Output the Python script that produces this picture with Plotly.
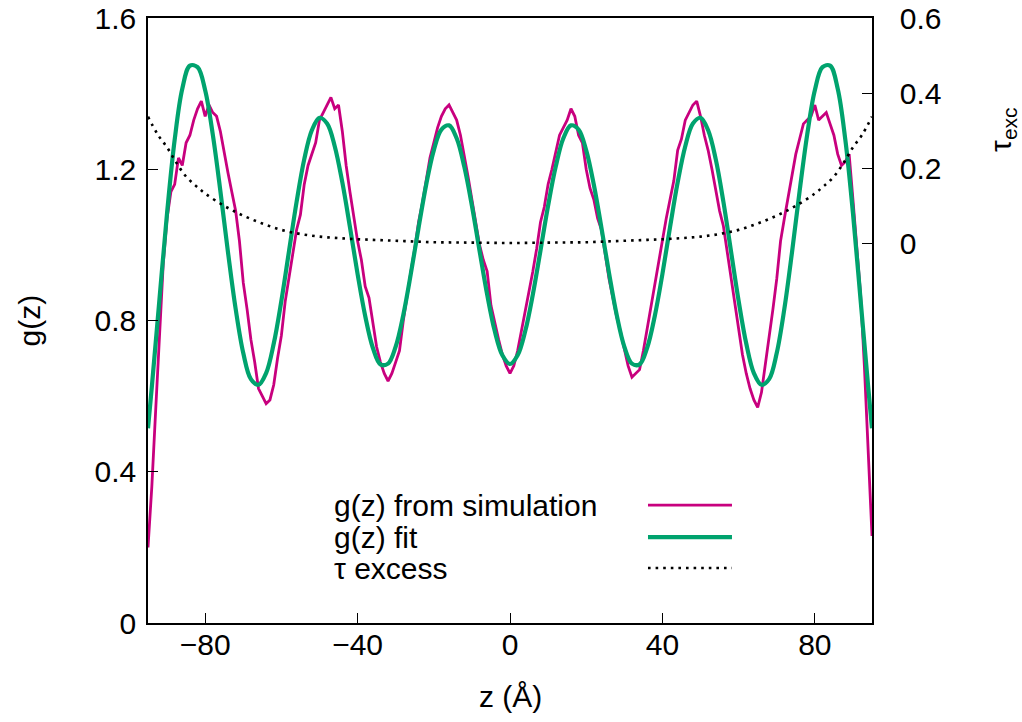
import plotly.graph_objects as go

# ---------------- data ----------------
z_sim = list(range(-95, 96))
g_sim = [
    0.20, 0.36, 0.56, 0.74, 0.95, 1.07, 1.14, 1.16, 1.23, 1.21,   # -95..-86
    1.27, 1.29, 1.33, 1.36, 1.38, 1.34, 1.37, 1.35, 1.34, 1.30,   # -85..-76
    1.25, 1.19, 1.14, 1.09, 1.01, 0.90, 0.83, 0.75, 0.69, 0.62,   # -75..-66
    0.60, 0.58, 0.59, 0.63, 0.70, 0.76, 0.85, 0.91, 0.97, 1.04,   # -65..-56
    1.08, 1.16, 1.21, 1.24, 1.27, 1.33, 1.35, 1.37, 1.39, 1.36,   # -55..-46
    1.37, 1.30, 1.21, 1.14, 1.07, 1.01, 0.96, 0.89, 0.86, 0.79,   # -45..-36
    0.73, 0.69, 0.66, 0.64, 0.66, 0.69, 0.72, 0.80, 0.87, 0.93,   # -35..-26
    0.99, 1.06, 1.11, 1.17, 1.23, 1.27, 1.31, 1.34, 1.36, 1.37,   # -25..-16
    1.35, 1.33, 1.29, 1.24, 1.18, 1.12, 1.06, 1.00, 0.96, 0.93,   # -15..-6
    0.84, 0.79, 0.75, 0.71, 0.68, 0.66, 0.68, 0.72, 0.77, 0.82,   # -5..4
    0.88, 0.93, 0.99, 1.06, 1.10, 1.16, 1.20, 1.25, 1.29, 1.31,   # 5..14
    1.33, 1.36, 1.34, 1.29, 1.27, 1.20, 1.15, 1.12, 1.07, 1.04,   # 15..24
    0.97, 0.91, 0.86, 0.81, 0.77, 0.72, 0.68, 0.65, 0.66, 0.67,   # 25..34
    0.72, 0.78, 0.84, 0.90, 0.96, 1.02, 1.07, 1.12, 1.17, 1.25,   # 35..44
    1.28, 1.33, 1.35, 1.37, 1.38, 1.34, 1.29, 1.25, 1.20, 1.14,   # 45..54
    1.09, 1.05, 0.98, 0.92, 0.85, 0.77, 0.71, 0.66, 0.62, 0.59,   # 55..64
    0.57, 0.61, 0.68, 0.75, 0.83, 0.91, 1.01, 1.07, 1.13, 1.18,   # 65..74
    1.24, 1.28, 1.32, 1.33, 1.34, 1.37, 1.33, 1.34, 1.35, 1.32,   # 75..84
    1.29, 1.24, 1.21, 1.22, 1.24, 1.12, 1.00, 0.87, 0.68, 0.45,   # 85..94
    0.23,                                                         # 95
]

z_fit = [-95, -94, -92, -90, -88, -86, -84, -82, -80, -78, -76, -74, -72, -70,
         -68, -66, -64, -62, -60, -58, -56, -54, -52, -50, -48, -46, -44, -42,
         -40, -38, -36, -34, -32, -30, -28, -26, -24, -22, -20, -18, -16, -14,
         -12, -10, -8, -6, -4, -2, 0, 2, 4, 6, 8, 10, 12, 14, 16, 18, 20, 22,
         24, 26, 28, 30, 32, 34, 36, 38, 40, 42, 44, 46, 48, 50, 52, 54, 56,
         58, 60, 62, 64, 66, 68, 70, 72, 74, 76, 78, 80, 82, 84, 86, 88, 90,
         92, 94, 95]
g_fit = [0.515, 0.624, 0.855, 1.084, 1.278, 1.413, 1.474, 1.470, 1.409, 1.292,
         1.142, 0.980, 0.831, 0.714, 0.645, 0.630, 0.661, 0.739, 0.852, 0.983,
         1.114, 1.226, 1.303, 1.336, 1.321, 1.261, 1.165, 1.047, 0.923, 0.812,
         0.728, 0.684, 0.686, 0.731, 0.815, 0.925, 1.045, 1.159, 1.250, 1.305,
         1.316, 1.282, 1.207, 1.104, 0.985, 0.869, 0.772, 0.708, 0.685, 0.708,
         0.772, 0.869, 0.985, 1.104, 1.207, 1.282, 1.316, 1.305, 1.250, 1.159,
         1.045, 0.925, 0.815, 0.731, 0.686, 0.684, 0.728, 0.812, 0.923, 1.047,
         1.165, 1.261, 1.321, 1.336, 1.303, 1.226, 1.114, 0.983, 0.852, 0.739,
         0.661, 0.630, 0.645, 0.714, 0.831, 0.980, 1.142, 1.292, 1.409, 1.470,
         1.474, 1.413, 1.278, 1.084, 0.855, 0.624, 0.515]

z_tau = [-95, -92.5, -90, -87.5, -85, -82.5, -80, -75, -70, -65, -60, -55, -50,
         -45, -40, -35, -30, -25, -20, -15, -10, -5, 0, 5, 10, 15, 20, 25, 30,
         35, 40, 45, 50, 55, 60, 65, 70, 75, 80, 82.5, 85, 87.5, 90, 92.5, 95]
tau_exc = [0.337, 0.290, 0.255, 0.213, 0.177, 0.153, 0.132, 0.099, 0.073, 0.052,
           0.035, 0.024, 0.017, 0.013, 0.010, 0.008, 0.006, 0.004, 0.002, 0.0015,
           0.001, 0.0005, 0.0, 0.0005, 0.001, 0.0015, 0.002, 0.004, 0.006, 0.008,
           0.010, 0.013, 0.017, 0.024, 0.035, 0.052, 0.073, 0.099, 0.132, 0.153,
           0.177, 0.213, 0.255, 0.290, 0.337]

x_ticks = [-80, -40, 0, 40, 80]
x_ticktext = ["\u221280", "\u221240", "0", "40", "80"]
y_ticks = [0, 0.4, 0.8, 1.2, 1.6]
y_ticktext = ["0", "0.4", "0.8", "1.2", "1.6"]
y2_ticks = [0, 0.2, 0.4, 0.6]
y2_ticktext = ["0", "0.2", "0.4", "0.6"]

legend_labels = ["g(z) from simulation", "g(z) fit", "\u03c4 excess"]

# ---------------- styling ----------------
MAGENTA = "#c8007e"
GREEN = "#00a36e"
FONT = "Liberation Sans, Arial, Helvetica, sans-serif"
FS = 30

fig = go.Figure()
fig.add_trace(go.Scatter(x=z_sim, y=g_sim, mode="lines",
                         line=dict(color=MAGENTA, width=2.8), showlegend=False))
fig.add_trace(go.Scatter(x=z_fit, y=g_fit, mode="lines",
                         line=dict(color=GREEN, width=4.2, shape="spline"),
                         showlegend=False))
fig.add_trace(go.Scatter(x=z_tau, y=tau_exc, mode="lines", yaxis="y2",
                         line=dict(color="black", width=2.6, dash="2.6px,5px",
                                   shape="spline"),
                         showlegend=False))

axis_common = dict(showgrid=False, zeroline=False, showline=True,
                   linecolor="black", linewidth=1.6, ticks="inside", ticklen=10,
                   tickwidth=1.4, tickcolor="black", automargin=False,
                   tickfont=dict(family=FONT, size=FS, color="black"))

fig.update_layout(
    width=1022, height=722,
    margin=dict(l=148, r=150, t=18, b=99, autoexpand=False),
    plot_bgcolor="white", paper_bgcolor="white",
    showlegend=False,
    xaxis=dict(range=[-95, 95], tickvals=x_ticks, ticktext=x_ticktext,
               mirror=True, ticklabelstandoff=-6, **axis_common),
    yaxis=dict(range=[0, 1.6], tickvals=y_ticks, ticktext=y_ticktext,
               mirror=True, ticklabelstandoff=4, **axis_common),
    yaxis2=dict(range=[-1.0133, 0.6], tickvals=y2_ticks, ticktext=y2_ticktext,
                overlaying="y", side="right", ticklabelstandoff=20,
                **axis_common),
)

title_font = dict(family=FONT, size=FS, color="black")
ann = []
ann.append(dict(text="g(z)", x=-0.163, y=0.5, xref="paper", yref="paper",
                xanchor="center", yanchor="middle", textangle=-90,
                showarrow=False, font=title_font))
ann.append(dict(text="z (\u00c5)", x=0.5, y=-0.1223, xref="paper", yref="paper",
                xanchor="center", yanchor="middle", showarrow=False,
                font=title_font))
ann.append(dict(text="\u03c4<sub>exc</sub>", x=1.181, y=0.815, xref="paper",
                yref="paper", xanchor="center", yanchor="middle",
                textangle=-90, showarrow=False, font=title_font))

leg_y = [0.195, 0.142, 0.0909]
leg_styles = [dict(color=MAGENTA, width=2.8),
              dict(color=GREEN, width=4.2),
              dict(color="black", width=2.6, dash="2.6px,5px")]
shapes = []
for lab, yy, st in zip(legend_labels, leg_y, leg_styles):
    ann.append(dict(text=lab, x=0.254, y=yy, xref="paper", yref="paper",
                    xanchor="left", yanchor="middle", showarrow=False,
                    font=title_font))
    shapes.append(dict(type="line", xref="paper", yref="paper",
                       x0=0.6906, x1=0.8066, y0=yy, y1=yy, line=st))

fig.update_layout(annotations=ann, shapes=shapes)
fig.write_html("out.html")
